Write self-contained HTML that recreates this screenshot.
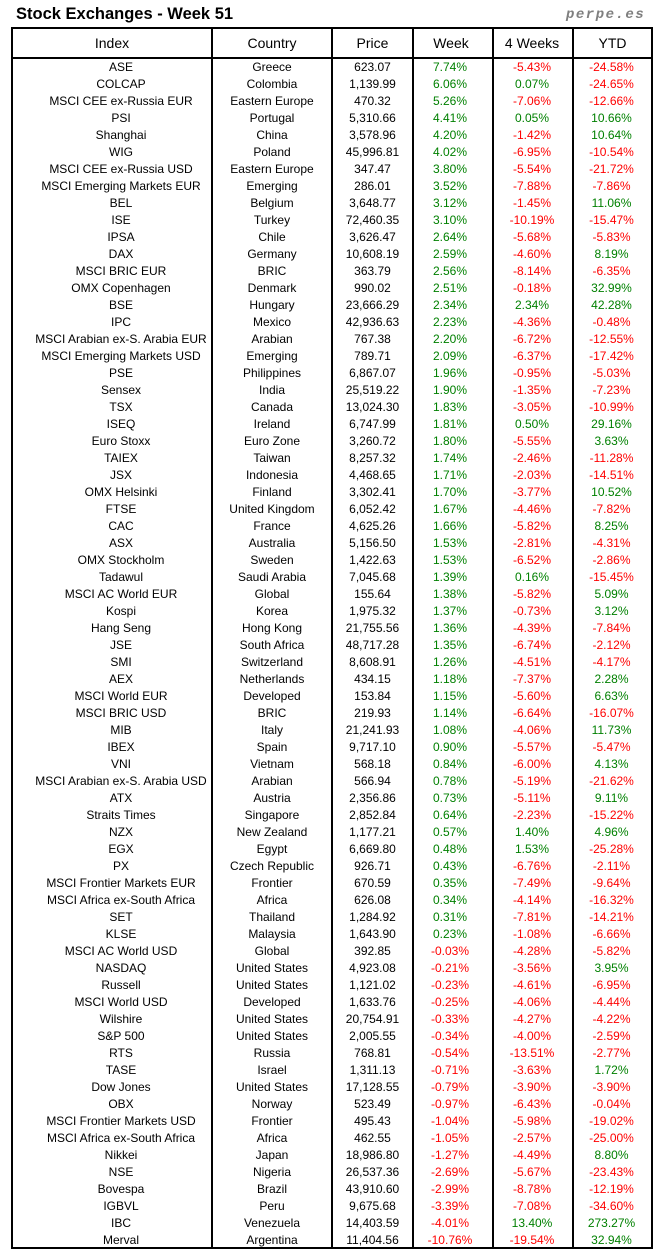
<!DOCTYPE html>
<html><head><meta charset="utf-8"><style>
*{margin:0;padding:0;box-sizing:border-box}
html,body{width:664px;height:1260px;background:#fff;overflow:hidden}
body{position:relative;font-family:"Liberation Sans",Arial,sans-serif;color:#000}
.ttl{position:absolute;left:16px;top:4px;font-size:16.5px;line-height:20px;font-weight:bold;white-space:nowrap}
.pp{position:absolute;left:566px;top:7px;font-family:"Liberation Mono",monospace;font-size:14px;line-height:16px;font-weight:bold;font-style:italic;letter-spacing:1.5px;color:#7f7f7f;white-space:nowrap}
.ln{position:absolute;background:#000}
.h{position:absolute;top:29px;height:28px;line-height:28px;font-size:14px;text-align:center;white-space:nowrap}
.rows{position:absolute;left:0;top:59px;width:664px}
.rows div{position:relative;height:17px;line-height:17px;font-size:12px;white-space:nowrap}
.rows span{position:absolute;top:0;text-align:center}
.rows span:nth-child(1){left:30px;width:182px}
.rows span:nth-child(2){left:213px;width:118px}
.rows span:nth-child(3){left:333px;width:79px}
.rows span:nth-child(4){left:414px;width:72px}
.rows span:nth-child(5){left:494px;width:76px}
.rows span:nth-child(6){left:573px;width:77px}
.g{color:#008000}.r{color:#ff0000}
</style></head><body>
<div class="ttl">Stock Exchanges - Week 51</div>
<div class="pp">perpe.es</div>

<div class="h" style="left:13px;width:198px">Index</div>
<div class="h" style="left:213px;width:118px">Country</div>
<div class="h" style="left:333px;width:79px">Price</div>
<div class="h" style="left:414px;width:74px">Week</div>
<div class="h" style="left:494px;width:76px">4 Weeks</div>
<div class="h" style="left:574px;width:77px">YTD</div>

<div class="rows">
<div><span>ASE</span><span>Greece</span><span>623.07</span><span class="g">7.74%</span><span class="r">-5.43%</span><span class="r">-24.58%</span></div>
<div><span>COLCAP</span><span>Colombia</span><span>1,139.99</span><span class="g">6.06%</span><span class="g">0.07%</span><span class="r">-24.65%</span></div>
<div><span>MSCI CEE ex-Russia EUR</span><span>Eastern Europe</span><span>470.32</span><span class="g">5.26%</span><span class="r">-7.06%</span><span class="r">-12.66%</span></div>
<div><span>PSI</span><span>Portugal</span><span>5,310.66</span><span class="g">4.41%</span><span class="g">0.05%</span><span class="g">10.66%</span></div>
<div><span>Shanghai</span><span>China</span><span>3,578.96</span><span class="g">4.20%</span><span class="r">-1.42%</span><span class="g">10.64%</span></div>
<div><span>WIG</span><span>Poland</span><span>45,996.81</span><span class="g">4.02%</span><span class="r">-6.95%</span><span class="r">-10.54%</span></div>
<div><span>MSCI CEE ex-Russia USD</span><span>Eastern Europe</span><span>347.47</span><span class="g">3.80%</span><span class="r">-5.54%</span><span class="r">-21.72%</span></div>
<div><span>MSCI Emerging Markets EUR</span><span>Emerging</span><span>286.01</span><span class="g">3.52%</span><span class="r">-7.88%</span><span class="r">-7.86%</span></div>
<div><span>BEL</span><span>Belgium</span><span>3,648.77</span><span class="g">3.12%</span><span class="r">-1.45%</span><span class="g">11.06%</span></div>
<div><span>ISE</span><span>Turkey</span><span>72,460.35</span><span class="g">3.10%</span><span class="r">-10.19%</span><span class="r">-15.47%</span></div>
<div><span>IPSA</span><span>Chile</span><span>3,626.47</span><span class="g">2.64%</span><span class="r">-5.68%</span><span class="r">-5.83%</span></div>
<div><span>DAX</span><span>Germany</span><span>10,608.19</span><span class="g">2.59%</span><span class="r">-4.60%</span><span class="g">8.19%</span></div>
<div><span>MSCI BRIC EUR</span><span>BRIC</span><span>363.79</span><span class="g">2.56%</span><span class="r">-8.14%</span><span class="r">-6.35%</span></div>
<div><span>OMX Copenhagen</span><span>Denmark</span><span>990.02</span><span class="g">2.51%</span><span class="r">-0.18%</span><span class="g">32.99%</span></div>
<div><span>BSE</span><span>Hungary</span><span>23,666.29</span><span class="g">2.34%</span><span class="g">2.34%</span><span class="g">42.28%</span></div>
<div><span>IPC</span><span>Mexico</span><span>42,936.63</span><span class="g">2.23%</span><span class="r">-4.36%</span><span class="r">-0.48%</span></div>
<div><span>MSCI Arabian ex-S. Arabia EUR</span><span>Arabian</span><span>767.38</span><span class="g">2.20%</span><span class="r">-6.72%</span><span class="r">-12.55%</span></div>
<div><span>MSCI Emerging Markets USD</span><span>Emerging</span><span>789.71</span><span class="g">2.09%</span><span class="r">-6.37%</span><span class="r">-17.42%</span></div>
<div><span>PSE</span><span>Philippines</span><span>6,867.07</span><span class="g">1.96%</span><span class="r">-0.95%</span><span class="r">-5.03%</span></div>
<div><span>Sensex</span><span>India</span><span>25,519.22</span><span class="g">1.90%</span><span class="r">-1.35%</span><span class="r">-7.23%</span></div>
<div><span>TSX</span><span>Canada</span><span>13,024.30</span><span class="g">1.83%</span><span class="r">-3.05%</span><span class="r">-10.99%</span></div>
<div><span>ISEQ</span><span>Ireland</span><span>6,747.99</span><span class="g">1.81%</span><span class="g">0.50%</span><span class="g">29.16%</span></div>
<div><span>Euro Stoxx</span><span>Euro Zone</span><span>3,260.72</span><span class="g">1.80%</span><span class="r">-5.55%</span><span class="g">3.63%</span></div>
<div><span>TAIEX</span><span>Taiwan</span><span>8,257.32</span><span class="g">1.74%</span><span class="r">-2.46%</span><span class="r">-11.28%</span></div>
<div><span>JSX</span><span>Indonesia</span><span>4,468.65</span><span class="g">1.71%</span><span class="r">-2.03%</span><span class="r">-14.51%</span></div>
<div><span>OMX Helsinki</span><span>Finland</span><span>3,302.41</span><span class="g">1.70%</span><span class="r">-3.77%</span><span class="g">10.52%</span></div>
<div><span>FTSE</span><span>United Kingdom</span><span>6,052.42</span><span class="g">1.67%</span><span class="r">-4.46%</span><span class="r">-7.82%</span></div>
<div><span>CAC</span><span>France</span><span>4,625.26</span><span class="g">1.66%</span><span class="r">-5.82%</span><span class="g">8.25%</span></div>
<div><span>ASX</span><span>Australia</span><span>5,156.50</span><span class="g">1.53%</span><span class="r">-2.81%</span><span class="r">-4.31%</span></div>
<div><span>OMX Stockholm</span><span>Sweden</span><span>1,422.63</span><span class="g">1.53%</span><span class="r">-6.52%</span><span class="r">-2.86%</span></div>
<div><span>Tadawul</span><span>Saudi Arabia</span><span>7,045.68</span><span class="g">1.39%</span><span class="g">0.16%</span><span class="r">-15.45%</span></div>
<div><span>MSCI AC World EUR</span><span>Global</span><span>155.64</span><span class="g">1.38%</span><span class="r">-5.82%</span><span class="g">5.09%</span></div>
<div><span>Kospi</span><span>Korea</span><span>1,975.32</span><span class="g">1.37%</span><span class="r">-0.73%</span><span class="g">3.12%</span></div>
<div><span>Hang Seng</span><span>Hong Kong</span><span>21,755.56</span><span class="g">1.36%</span><span class="r">-4.39%</span><span class="r">-7.84%</span></div>
<div><span>JSE</span><span>South Africa</span><span>48,717.28</span><span class="g">1.35%</span><span class="r">-6.74%</span><span class="r">-2.12%</span></div>
<div><span>SMI</span><span>Switzerland</span><span>8,608.91</span><span class="g">1.26%</span><span class="r">-4.51%</span><span class="r">-4.17%</span></div>
<div><span>AEX</span><span>Netherlands</span><span>434.15</span><span class="g">1.18%</span><span class="r">-7.37%</span><span class="g">2.28%</span></div>
<div><span>MSCI World EUR</span><span>Developed</span><span>153.84</span><span class="g">1.15%</span><span class="r">-5.60%</span><span class="g">6.63%</span></div>
<div><span>MSCI BRIC USD</span><span>BRIC</span><span>219.93</span><span class="g">1.14%</span><span class="r">-6.64%</span><span class="r">-16.07%</span></div>
<div><span>MIB</span><span>Italy</span><span>21,241.93</span><span class="g">1.08%</span><span class="r">-4.06%</span><span class="g">11.73%</span></div>
<div><span>IBEX</span><span>Spain</span><span>9,717.10</span><span class="g">0.90%</span><span class="r">-5.57%</span><span class="r">-5.47%</span></div>
<div><span>VNI</span><span>Vietnam</span><span>568.18</span><span class="g">0.84%</span><span class="r">-6.00%</span><span class="g">4.13%</span></div>
<div><span>MSCI Arabian ex-S. Arabia USD</span><span>Arabian</span><span>566.94</span><span class="g">0.78%</span><span class="r">-5.19%</span><span class="r">-21.62%</span></div>
<div><span>ATX</span><span>Austria</span><span>2,356.86</span><span class="g">0.73%</span><span class="r">-5.11%</span><span class="g">9.11%</span></div>
<div><span>Straits Times</span><span>Singapore</span><span>2,852.84</span><span class="g">0.64%</span><span class="r">-2.23%</span><span class="r">-15.22%</span></div>
<div><span>NZX</span><span>New Zealand</span><span>1,177.21</span><span class="g">0.57%</span><span class="g">1.40%</span><span class="g">4.96%</span></div>
<div><span>EGX</span><span>Egypt</span><span>6,669.80</span><span class="g">0.48%</span><span class="g">1.53%</span><span class="r">-25.28%</span></div>
<div><span>PX</span><span>Czech Republic</span><span>926.71</span><span class="g">0.43%</span><span class="r">-6.76%</span><span class="r">-2.11%</span></div>
<div><span>MSCI Frontier Markets EUR</span><span>Frontier</span><span>670.59</span><span class="g">0.35%</span><span class="r">-7.49%</span><span class="r">-9.64%</span></div>
<div><span>MSCI Africa ex-South Africa</span><span>Africa</span><span>626.08</span><span class="g">0.34%</span><span class="r">-4.14%</span><span class="r">-16.32%</span></div>
<div><span>SET</span><span>Thailand</span><span>1,284.92</span><span class="g">0.31%</span><span class="r">-7.81%</span><span class="r">-14.21%</span></div>
<div><span>KLSE</span><span>Malaysia</span><span>1,643.90</span><span class="g">0.23%</span><span class="r">-1.08%</span><span class="r">-6.66%</span></div>
<div><span>MSCI AC World USD</span><span>Global</span><span>392.85</span><span class="r">-0.03%</span><span class="r">-4.28%</span><span class="r">-5.82%</span></div>
<div><span>NASDAQ</span><span>United States</span><span>4,923.08</span><span class="r">-0.21%</span><span class="r">-3.56%</span><span class="g">3.95%</span></div>
<div><span>Russell</span><span>United States</span><span>1,121.02</span><span class="r">-0.23%</span><span class="r">-4.61%</span><span class="r">-6.95%</span></div>
<div><span>MSCI World USD</span><span>Developed</span><span>1,633.76</span><span class="r">-0.25%</span><span class="r">-4.06%</span><span class="r">-4.44%</span></div>
<div><span>Wilshire</span><span>United States</span><span>20,754.91</span><span class="r">-0.33%</span><span class="r">-4.27%</span><span class="r">-4.22%</span></div>
<div><span>S&amp;P 500</span><span>United States</span><span>2,005.55</span><span class="r">-0.34%</span><span class="r">-4.00%</span><span class="r">-2.59%</span></div>
<div><span>RTS</span><span>Russia</span><span>768.81</span><span class="r">-0.54%</span><span class="r">-13.51%</span><span class="r">-2.77%</span></div>
<div><span>TASE</span><span>Israel</span><span>1,311.13</span><span class="r">-0.71%</span><span class="r">-3.63%</span><span class="g">1.72%</span></div>
<div><span>Dow Jones</span><span>United States</span><span>17,128.55</span><span class="r">-0.79%</span><span class="r">-3.90%</span><span class="r">-3.90%</span></div>
<div><span>OBX</span><span>Norway</span><span>523.49</span><span class="r">-0.97%</span><span class="r">-6.43%</span><span class="r">-0.04%</span></div>
<div><span>MSCI Frontier Markets USD</span><span>Frontier</span><span>495.43</span><span class="r">-1.04%</span><span class="r">-5.98%</span><span class="r">-19.02%</span></div>
<div><span>MSCI Africa ex-South Africa</span><span>Africa</span><span>462.55</span><span class="r">-1.05%</span><span class="r">-2.57%</span><span class="r">-25.00%</span></div>
<div><span>Nikkei</span><span>Japan</span><span>18,986.80</span><span class="r">-1.27%</span><span class="r">-4.49%</span><span class="g">8.80%</span></div>
<div><span>NSE</span><span>Nigeria</span><span>26,537.36</span><span class="r">-2.69%</span><span class="r">-5.67%</span><span class="r">-23.43%</span></div>
<div><span>Bovespa</span><span>Brazil</span><span>43,910.60</span><span class="r">-2.99%</span><span class="r">-8.78%</span><span class="r">-12.19%</span></div>
<div><span>IGBVL</span><span>Peru</span><span>9,675.68</span><span class="r">-3.39%</span><span class="r">-7.08%</span><span class="r">-34.60%</span></div>
<div><span>IBC</span><span>Venezuela</span><span>14,403.59</span><span class="r">-4.01%</span><span class="g">13.40%</span><span class="g">273.27%</span></div>
<div><span>Merval</span><span>Argentina</span><span>11,404.56</span><span class="r">-10.76%</span><span class="r">-19.54%</span><span class="g">32.94%</span></div>
</div>

<div class="ln" style="left:11px;top:27px;width:642px;height:2px"></div>
<div class="ln" style="left:11px;top:57px;width:642px;height:2px"></div>
<div class="ln" style="left:0;top:1249px;width:664px;height:11px;background:#fff"></div>
<div class="ln" style="left:11px;top:1247px;width:642px;height:2px"></div>
<div class="ln" style="left:11px;top:27px;width:2px;height:1222px"></div>
<div class="ln" style="left:211px;top:27px;width:2px;height:1222px"></div>
<div class="ln" style="left:331px;top:27px;width:2px;height:1222px"></div>
<div class="ln" style="left:412px;top:27px;width:2px;height:1222px"></div>
<div class="ln" style="left:492px;top:27px;width:2px;height:1222px"></div>
<div class="ln" style="left:572px;top:27px;width:2px;height:1222px"></div>
<div class="ln" style="left:651px;top:27px;width:2px;height:1222px"></div>
</body></html>
